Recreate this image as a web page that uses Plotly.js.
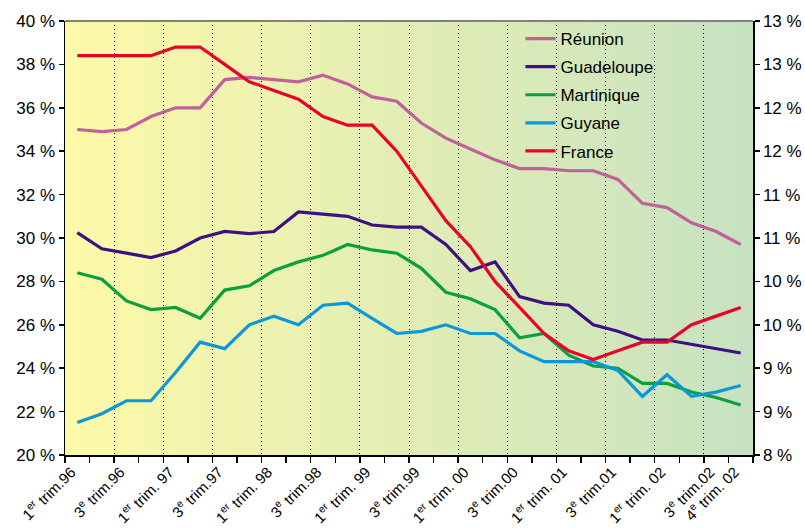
<!DOCTYPE html>
<html>
<head>
<meta charset="utf-8">
<script src="https://cdn.plot.ly/plotly-3.0.1.min.js"></script>
<style>html,body{margin:0;padding:0;background:#fff;}#chart{width:805px;height:529px;}</style>
</head>
<body>
<div id="chart"></div>
<script>
// 28 quarters, Q1 1996 .. Q4 2002 (index 0..27)
var quarters = [0,1,2,3,4,5,6,7,8,9,10,11,12,13,14,15,16,17,18,19,20,21,22,23,24,25,26,27];
var labelPositions = [0,2,4,6,8,10,12,14,16,18,20,22,24,26,27];
var labelTexts = [
  "1<sup>er</sup> trim.96","3<sup>e</sup> trim.96","1<sup>er</sup> trim. 97","3<sup>e</sup> trim.97",
  "1<sup>er</sup> trim. 98","3<sup>e</sup> trim.98","1<sup>er</sup> trim. 99","3<sup>e</sup> trim.99",
  "1<sup>er</sup> trim. 00","3<sup>e</sup> trim.00","1<sup>er</sup> trim. 01","3<sup>e</sup> trim.01",
  "1<sup>er</sup> trim. 02","3<sup>e</sup> trim.02","4<sup>e</sup> trim. 02"
];
// left axis (%)
var reunion = [35.0,34.9,35.0,35.6,36.0,36.0,37.3,37.4,37.3,37.2,37.5,37.1,36.5,36.3,35.3,34.6,34.1,33.6,33.2,33.2,33.1,33.1,32.7,31.6,31.4,30.7,30.3,29.7];
var guadeloupe = [30.25,29.5,29.3,29.1,29.4,30.0,30.3,30.2,30.3,31.2,31.1,31.0,30.6,30.5,30.5,29.7,28.5,28.9,27.3,27.0,26.9,26.0,25.7,25.3,25.3,25.1,24.9,24.7];
var martinique = [28.4,28.1,27.1,26.7,26.8,26.3,27.6,27.8,28.5,28.9,29.2,29.7,29.45,29.3,28.6,27.5,27.2,26.7,25.4,25.6,24.6,24.1,24.0,23.3,23.3,22.9,22.65,22.3];
var guyane = [21.5,21.9,22.5,22.5,23.8,25.2,24.9,26.0,26.4,26.0,26.9,27.0,26.3,25.6,25.7,26.0,25.6,25.6,24.8,24.3,24.3,24.3,23.9,22.7,23.7,22.7,22.9,23.2];
// right axis (%)
var france = [12.6,12.6,12.6,12.6,12.7,12.7,12.5,12.3,12.2,12.1,11.9,11.8,11.8,11.5,11.1,10.7,10.4,10.0,9.7,9.4,9.2,9.1,9.2,9.3,9.3,9.5,9.6,9.7];
var rightTickVals = [8,8.5,9,9.5,10,10.5,11,11.5,12,12.5,13];
var rightTickText = ["8 %","9 %","9 %","10 %","10 %","11 %","11 %","12 %","12 %","13 %","13 %"];

var FONT = "Liberation Sans, Arial, sans-serif";
function tr(name, y, color, xa, ya) {
  return {x: quarters, y: y, name: name, type: 'scatter', mode: 'lines',
    line: {color: color, width: 3.2}, xaxis: xa, yaxis: ya, legendgroup: name};
}
var data = [
  tr('Réunion', reunion, '#C0619B', 'x', 'y'),
  tr('Guadeloupe', guadeloupe, '#3E1183', 'x', 'y'),
  tr('Martinique', martinique, '#0AA03C', 'x', 'y'),
  tr('Guyane', guyane, '#0C98D8', 'x', 'y'),
  tr('France', france, '#E8032B', 'x2', 'y2')
];

// background gradient strips (yellow -> green)
var shapes = [];
var N = 80, c0 = [253,249,168], c1 = [199,226,193];
for (var k = 0; k < N; k++) {
  var t = k / (N - 1);
  var c = c0.map(function(v, j){ return Math.round(v + (c1[j] - v) * t); });
  shapes.push({type:'rect', xref:'paper', yref:'paper', x0:k/N, x1:(k+1)/N + 0.002, y0:0, y1:1,
    fillcolor:'rgb('+c.join(',')+')', line:{width:0}, layer:'below'});
}
shapes.push({type:'line', xref:'paper', yref:'paper', x0:0, x1:1, y0:1, y1:1, line:{color:'#808080', width:2}});

var layout = {
  width: 805, height: 529,
  margin: {l: 65, r: 52, t: 21, b: 74},
  paper_bgcolor: '#ffffff', plot_bgcolor: 'rgba(0,0,0,0)',
  font: {family: FONT, size: 17, color: '#000'},
  showlegend: true,
  legend: {x: 0.662, y: 1.0, xanchor: 'left', yanchor: 'top', bgcolor: 'rgba(0,0,0,0)',
    font: {family: FONT, size: 17}, tracegroupgap: 3, itemwidth: 30},
  xaxis: {range: [-0.5, 27.5], tickmode: 'array', tickvals: labelPositions, ticktext: labelTexts,
    tickangle: -45, ticks: '', showgrid: false, zeroline: false, showline: true, linecolor: '#000', linewidth: 1.5,
    ticklabelshift: -6, ticklabelstandoff: 1, tickfont: {family: FONT, size: 15}},
  xaxis2: {overlaying: 'x', anchor: 'y', side: 'bottom', range: [-0.5, 27.5], tickmode: 'linear', tick0: -0.5, dtick: 2,
    showticklabels: false, ticks: 'outside', ticklen: 7, tickcolor: '#000', tickwidth: 1.5,
    showgrid: true, gridcolor: '#000', gridwidth: 1, griddash: '1px,3px', zeroline: false,
    minor: {tick0: -0.5, dtick: 1, ticks: 'outside', ticklen: 7, tickcolor: '#000', tickwidth: 1.5, showgrid: false}},
  yaxis: {range: [20, 40], tickmode: 'linear', tick0: 20, dtick: 2, ticksuffix: ' %', ticks: 'outside', ticklen: 5,
    tickcolor: '#000', tickwidth: 1.5, showgrid: false, zeroline: false, showline: true, linecolor: '#000', linewidth: 1.5,
    tickfont: {family: FONT, size: 17}},
  yaxis2: {overlaying: 'y', side: 'right', anchor: 'x2', range: [8, 13], tickmode: 'array', tickvals: rightTickVals,
    ticktext: rightTickText, ticks: 'outside', ticklen: 5, tickcolor: '#000', tickwidth: 1.5, showgrid: false,
    zeroline: false, showline: true, linecolor: '#000', linewidth: 1.5, tickfont: {family: FONT, size: 17}},
  shapes: shapes
};
Plotly.newPlot('chart', data, layout, {displayModeBar: false, staticPlot: true});
</script>
</body>
</html>
